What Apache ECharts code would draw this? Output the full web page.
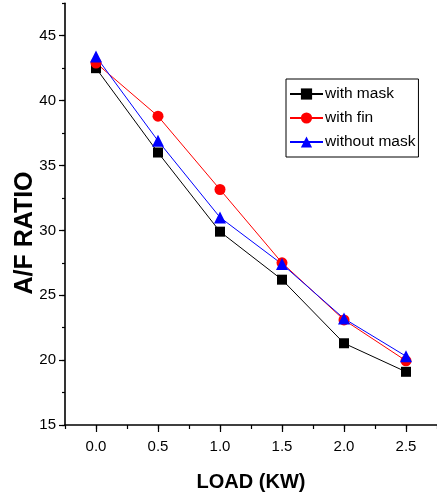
<!DOCTYPE html>
<html>
<head>
<meta charset="utf-8">
<script src="https://cdn.jsdelivr.net/npm/echarts@6/dist/echarts.min.js"></script>
<style>
html,body{margin:0;padding:0;background:#fff;}
#chart{width:437px;height:501px;}
</style>
</head>
<body>
<div id="chart"></div>
<script>
// ---- data ----
const loads = [0.0, 0.5, 1.0, 1.5, 2.0, 2.5];
const withMask = [42.5, 36.0, 29.9, 26.2, 21.3, 19.1];
const withFin = [42.9, 38.8, 33.15, 27.5, 23.1, 19.95];
const withoutMask = [43.4, 36.9, 31.0, 27.4, 23.2, 20.3];
const xTickLabels = [0.0, 0.5, 1.0, 1.5, 2.0, 2.5];
const yTickLabels = [15, 20, 25, 30, 35, 40, 45];
const seriesNames = ['with mask', 'with fin', 'without mask'];

const SANS = '"Liberation Sans Narrow", "Liberation Sans", Arial, sans-serif';

const pairs = arr => loads.map((x, i) => [x, arr[i]]);

const chart = echarts.init(document.getElementById('chart'), null, {renderer: 'canvas'});
const gridPos = {left: 65, top: 3.3, width: 374.4, height: 421.7};
const axisLineStyle = {color: '#000', width: 1.6};

chart.setOption({
  animation: false,
  backgroundColor: '#fff',
  grid: gridPos,
  xAxis: [{
    type: 'value', min: -0.25, max: 2.75, interval: 0.25,
    axisLine: {show: true, onZero: false, lineStyle: axisLineStyle},
    axisTick: {show: true, length: 4, inside: false, lineStyle: {color: '#000', width: 1.2}},
    axisLabel: {
      customValues: xTickLabels, margin: 14,
      formatter: v => v.toFixed(1),
      fontFamily: SANS, fontSize: 15, color: '#000'
    },
    splitLine: {show: false},
    name: 'LOAD (KW)', nameLocation: 'middle', nameGap: 47,
    nameTextStyle: {fontFamily: SANS, fontWeight: 'bold', fontSize: 20, color: '#000'}
  }, {
    type: 'value', min: -0.25, max: 2.75, position: 'bottom',
    axisLine: {show: false, onZero: false},
    axisTick: {show: true, length: 7, customValues: xTickLabels, lineStyle: {color: '#000', width: 1.2}},
    axisLabel: {show: false},
    splitLine: {show: false}
  }],
  yAxis: [{
    type: 'value', min: 15, max: 47.5, interval: 2.5,
    axisLine: {show: true, onZero: false, lineStyle: axisLineStyle},
    axisTick: {show: true, length: 3, lineStyle: {color: '#000', width: 1.2}},
    axisLabel: {
      customValues: yTickLabels, margin: 9,
      fontFamily: SANS, fontSize: 15, color: '#000'
    },
    splitLine: {show: false}
  }, {
    type: 'value', min: 15, max: 47.5, position: 'left',
    axisLine: {show: false, onZero: false},
    axisTick: {show: true, length: 6, customValues: yTickLabels, lineStyle: {color: '#000', width: 1.2}},
    axisLabel: {show: false},
    splitLine: {show: false}
  }],
  legend: {
    left: 286, top: 79, orient: 'vertical',
    backgroundColor: '#fff',
    borderColor: '#000', borderWidth: 1, borderRadius: 0,
    padding: [6, 3, 6, 3],
    itemWidth: 33, itemHeight: 14, itemGap: 6,
    textStyle: {fontFamily: SANS, fontSize: 15.5, color: '#000', lineHeight: 18, padding: [0, 0, 0, -3]},
    data: seriesNames
  },
  graphic: [{
    type: 'text', x: 25, y: 233, rotation: Math.PI / 2,
    style: {text: 'A/F RATIO', font: 'bold 25px "Liberation Sans", Arial, sans-serif', fill: '#000', align: 'center', verticalAlign: 'middle'}
  }],
  series: [{
    name: seriesNames[0], type: 'line', data: pairs(withMask),
    symbol: 'rect', symbolSize: 10,
    itemStyle: {color: '#000'}, lineStyle: {color: '#000', width: 1}
  }, {
    name: seriesNames[1], type: 'line', data: pairs(withFin),
    symbol: 'circle', symbolSize: 11,
    itemStyle: {color: '#ff0000'}, lineStyle: {color: '#ff0000', width: 1}
  }, {
    name: seriesNames[2], type: 'line', data: pairs(withoutMask),
    symbol: 'triangle', symbolSize: 12,
    itemStyle: {color: '#0000ff'}, lineStyle: {color: '#0000ff', width: 1}
  }]
});
</script>
</body>
</html>
